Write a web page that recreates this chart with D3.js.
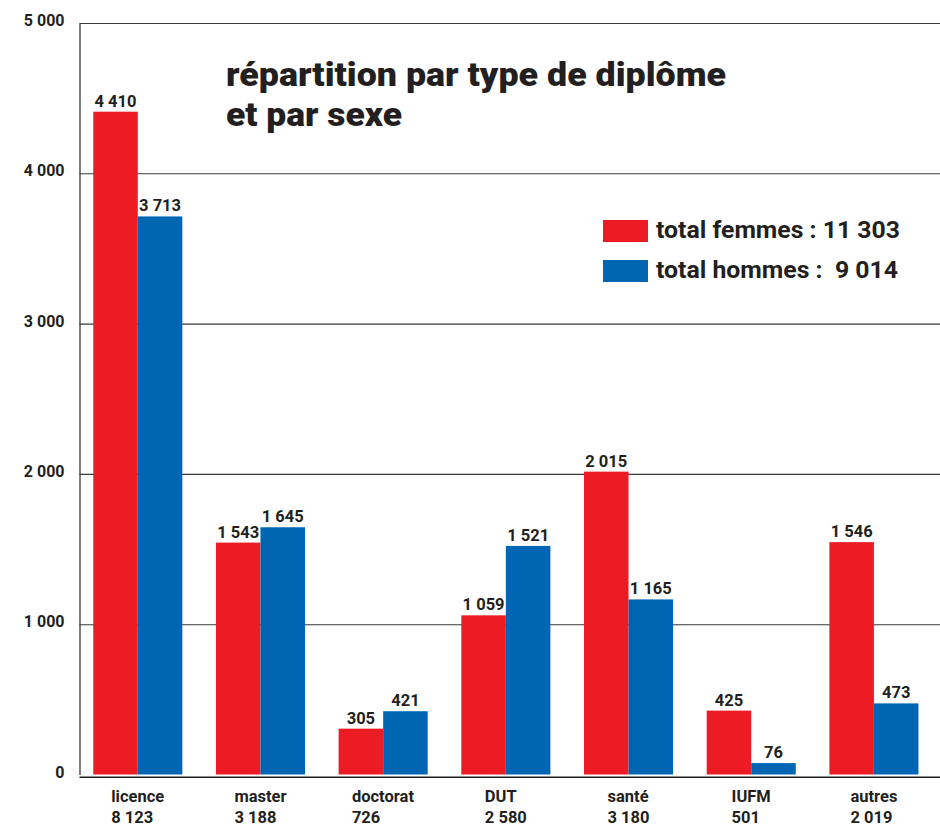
<!DOCTYPE html>
<html>
<head>
<meta charset="utf-8">
<script src="https://cdn.jsdelivr.net/npm/d3@7"></script>
<style>
    body { margin: 0; background: #fff; }
    svg text { font-family: Roboto, "Noto Sans", sans-serif; font-weight: 700; fill: #231f20; white-space: pre; }
</style>
</head>
<body>
<div id="chart"></div>
<script>
// data
const categories = ["licence", "master", "doctorat", "DUT", "santé", "IUFM", "autres"];
const femmes = [4410, 1543, 305, 1059, 2015, 425, 1546];
const hommes = [3713, 1645, 421, 1521, 1165, 76, 473];
const totals = [8123, 3188, 726, 2580, 3180, 501, 2019];
const seriesKeys = ["femmes", "hommes"];
const legendLabels = ["total femmes : 11 303", "total hommes :  9 014"];
const titleLines = ["répartition par type de diplôme", "et par sexe"];
const yTicks = [0, 1000, 2000, 3000, 4000, 5000];

const colors = { femmes: "#ed1c24", hommes: "#0066b3" };

const W = 940, H = 839;
const plotLeft = 79.5, plotTop = 23, plotBottom = 774.5;

const locale = d3.formatLocale({ decimal: ",", thousands: " ", grouping: [3], currency: ["", " €"] });
const fmt = locale.format(",d");

const svg = d3.select("#chart")
    .append("svg")
    .attr("width", W)
    .attr("height", H);

const y = d3.scaleLinear()
    .domain([0, 5000])
    .range([plotBottom, plotTop]);

const x0 = d3.scaleBand()
    .domain(categories)
    .range([80, 931.7])
    .paddingInner(0.274)
    .paddingOuter(0.108);

const x1 = d3.scaleBand()
    .domain(seriesKeys)
    .range([0, x0.bandwidth()]);

// y axis + grid
const yAxis = svg.append("g")
    .attr("transform", `translate(${plotLeft},0)`)
    .call(d3.axisLeft(y)
        .tickValues(yTicks)
        .tickSize(-(W - plotLeft))
        .tickSizeOuter(0)
        .tickFormat(fmt));

yAxis.attr("font-family", null).attr("font-size", null);
yAxis.select(".domain").attr("stroke", "#3a3a3a").attr("stroke-width", 1.3);
yAxis.selectAll(".tick line")
    .attr("stroke", "#3a3a3a")
    .attr("stroke-width", 1.1)
    .filter(d => d === 0).remove();
yAxis.selectAll(".tick text")
    .attr("x", -15)
    .attr("dy", 2.5)
    .attr("fill", null)
    .attr("font-size", 16);

// baseline
svg.append("line")
    .attr("x1", plotLeft)
    .attr("x2", W)
    .attr("y1", plotBottom + 2.8)
    .attr("y2", plotBottom + 2.8)
    .attr("stroke", "#231f20")
    .attr("stroke-width", 1.6);

// bars
const rows = categories.map((c, i) => ({ cat: c, femmes: femmes[i], hommes: hommes[i], total: totals[i] }));

const groups = svg.append("g")
    .selectAll("g")
    .data(rows)
    .join("g")
    .attr("transform", d => `translate(${x0(d.cat)},0)`);

const cells = groups.selectAll("g")
    .data(d => seriesKeys.map(k => ({ key: k, value: d[k] })))
    .join("g");

cells.append("rect")
    .attr("x", d => x1(d.key))
    .attr("y", d => y(d.value))
    .attr("width", x1.bandwidth())
    .attr("height", d => y(0) - y(d.value))
    .attr("fill", d => colors[d.key]);

cells.append("text")
    .attr("x", d => x1(d.key) + x1.bandwidth() / 2)
    .attr("y", d => y(d.value) - 5)
    .attr("text-anchor", "middle")
    .attr("font-size", 16.5)
    .text(d => fmt(d.value));

// category labels: left aligned block centred under the group
const catLabels = svg.append("g")
    .selectAll("text")
    .data(rows)
    .join("text")
    .attr("font-size", 16.5);

catLabels.append("tspan")
    .attr("x", 0)
    .attr("y", 802)
    .text(d => d.cat);
catLabels.append("tspan")
    .attr("x", 0)
    .attr("y", 823)
    .text(d => fmt(d.total));

catLabels.each(function(d) {
    const w = this.getBBox().width;
    const xs = x0(d.cat) + x0.bandwidth() / 2 - w / 2;
    d3.select(this).selectAll("tspan").attr("x", xs);
});

// title
const titleWidths = [500, 176];
svg.append("g")
    .selectAll("text")
    .data(titleLines)
    .join("text")
    .attr("x", 226)
    .attr("y", (d, i) => 86 + i * 40)
    .attr("font-size", 33)
    .attr("font-weight", 900)
    .style("font-weight", 900)
    .attr("textLength", (d, i) => titleWidths[i])
    .attr("lengthAdjust", "spacingAndGlyphs")
    .text(d => d);

// legend
const legend = svg.append("g")
    .selectAll("g")
    .data(seriesKeys)
    .join("g")
    .attr("transform", (d, i) => `translate(603,${220 + i * 40})`);

legend.append("rect")
    .attr("width", 45)
    .attr("height", 22)
    .attr("fill", d => colors[d]);

legend.append("text")
    .attr("x", 53)
    .attr("y", 18)
    .attr("font-size", 23.5)
    .attr("textLength", (d, i) => i === 0 ? 244 : 242)
    .attr("lengthAdjust", "spacingAndGlyphs")
    .text((d, i) => legendLabels[i]);
</script>
</body>
</html>
